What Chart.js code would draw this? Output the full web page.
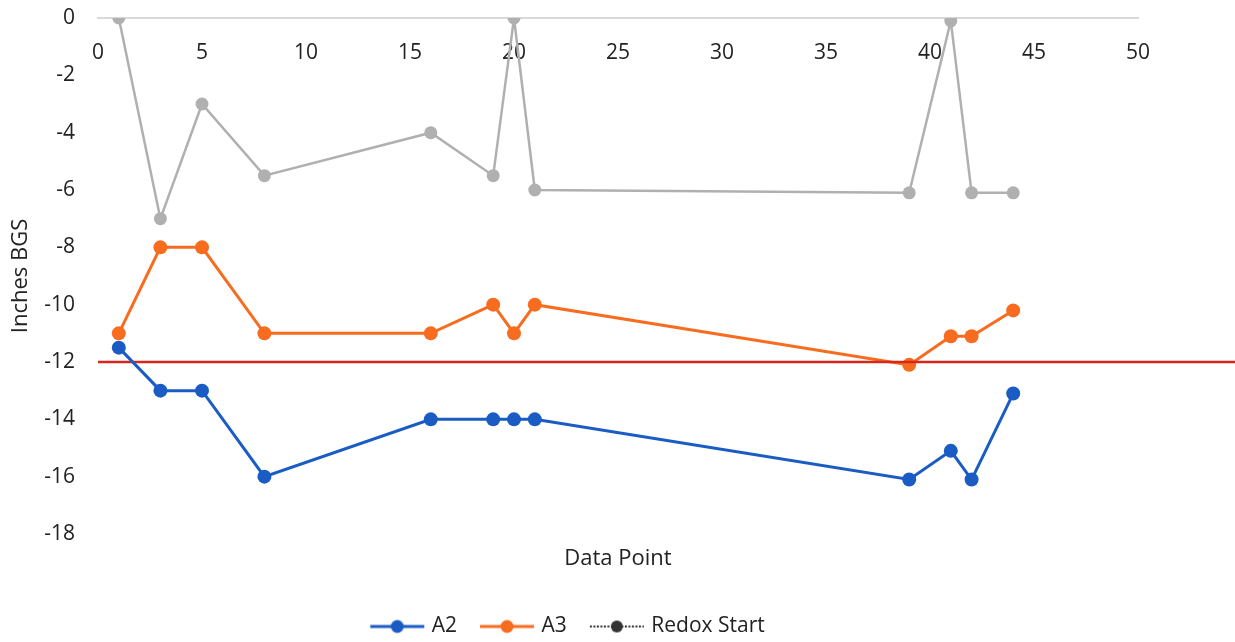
<!DOCTYPE html>
<html>
<head>
<meta charset="utf-8">
<script src="https://cdn.jsdelivr.net/npm/chart.js@4"></script>
<style>
  html, body { margin: 0; padding: 0; background: #fff; }
  #wrap { width: 1235px; height: 642px; }
</style>
</head>
<body>
<div id="wrap"><canvas id="c" width="1235" height="642"></canvas></div>
<script>
// Sample positions (data point index)
const dataPoints = [1, 3, 5, 8, 16, 19, 20, 21, 39, 41, 42, 44];
// Depths in inches below ground surface
const redoxStart = [0, -7, -3, -5.5, -4, -5.5, 0, -6, -6.1, -0.1, -6.1, -6.1];
const a3 = [-11, -8, -8, -11, -11, -10, -11, -10, -12.1, -11.1, -11.1, -10.2];
const a2 = [-11.5, -13, -13, -16, -14, -14, -14, -14, -16.1, -15.1, -16.1, -13.1];
// Reference depth line
const refDepth = -12;
const refSpan = [0, 54.7];
// Axis ticks
const xTicks = [0, 5, 10, 15, 20, 25, 30, 35, 40, 45, 50];
const yTicks = [0, -2, -4, -6, -8, -10, -12, -14, -16, -18];

const BLUE = '#1a5cc4';
const ORANGE = '#f76c1e';
const GRAY = '#b0b0b0';
const RED = '#d8261c';
const FONT = "'Open Sans', sans-serif";

function pts(ys) { return dataPoints.map((x, i) => ({ x: x, y: ys[i] })); }

// Legend swatches: a short line with the series marker on it
function swatch(color, kind) {
  const c = document.createElement('canvas');
  c.width = 56; c.height = 16;
  const g = c.getContext('2d');
  g.strokeStyle = color; g.fillStyle = color;
  if (kind === 'dashed') {
    g.lineWidth = 2;
    g.setLineDash([2, 1.5]);
  } else {
    g.lineWidth = 3;
  }
  g.beginPath(); g.moveTo(1, 8); g.lineTo(55, 8); g.stroke();
  g.setLineDash([]);
  g.beginPath();
  g.arc(28, 8, kind === 'dashed' ? 6 : 6.5, 0, Math.PI * 2);
  g.fill();
  return c;
}
const legendSwatches = {
  'A2': swatch(BLUE, 'solid'),
  'A3': swatch(ORANGE, 'solid'),
  'Redox Start': swatch('#333333', 'dashed')
};
const legendOrder = ['A2', 'A3', 'Redox Start'];

new Chart(document.getElementById('c'), {
  type: 'line',
  data: {
    datasets: [
      {
        label: 'Redox Start', data: pts(redoxStart), borderColor: GRAY, backgroundColor: GRAY,
        borderWidth: 2.5, pointRadius: 6.5, pointBorderWidth: 0, pointBackgroundColor: GRAY, order: 3
      },
      {
        label: 'A3', data: pts(a3), borderColor: ORANGE, backgroundColor: ORANGE,
        borderWidth: 3, pointRadius: 7, pointBorderWidth: 0, pointBackgroundColor: ORANGE, order: 2
      },
      {
        label: 'Ref', data: refSpan.map(x => ({ x: x, y: refDepth })), borderColor: RED,
        borderWidth: 2.5, pointRadius: 0, clip: false, order: 1
      },
      {
        label: 'A2', data: pts(a2), borderColor: BLUE, backgroundColor: BLUE,
        borderWidth: 3, pointRadius: 7, pointBorderWidth: 0, pointBackgroundColor: BLUE, order: 0
      }
    ]
  },
  options: {
    responsive: false,
    animation: false,
    layout: { padding: { top: 18, right: 97, left: 0, bottom: -5 } },
    scales: {
      x: {
        type: 'linear', min: 0, max: 50,
        position: { y: 0 },
        afterBuildTicks: s => { s.ticks = xTicks.map(v => ({ value: v })); },
        grid: { display: false, drawTicks: false },
        border: { display: true, color: '#d9d9d9', width: 2 },
        ticks: { padding: 22, color: '#222', font: { family: FONT, size: 21 } }
      },
      x2: {
        type: 'linear', min: 0, max: 50, position: 'bottom',
        grid: { display: false, drawTicks: false },
        border: { display: false },
        ticks: { display: false },
        afterFit: s => { s.height = 56; },
        title: {
          display: true, text: 'Data Point', color: '#222',
          font: { family: FONT, size: 22 }, padding: { top: 0, bottom: 18 }
        }
      },
      y: {
        type: 'linear', min: -18, max: 0,
        afterBuildTicks: s => { s.ticks = yTicks.map(v => ({ value: v })); },
        afterFit: s => { s.width = 98; },
        grid: {
          display: true, drawOnChartArea: false, drawTicks: true,
          tickLength: 23, tickColor: 'rgba(0,0,0,0)'
        },
        border: { display: false },
        ticks: { padding: 0, color: '#222', font: { family: FONT, size: 21 } },
        title: {
          display: true, text: 'Inches BGS', color: '#222',
          font: { family: FONT, size: 22 }, padding: { top: 8, bottom: 0 }
        }
      }
    },
    plugins: {
      tooltip: { enabled: false },
      legend: {
        position: 'bottom',
        onClick: null,
        labels: {
          usePointStyle: true,
          pointStyleWidth: 48,
          padding: 26,
          color: '#222',
          font: { family: FONT, size: 21 },
          generateLabels: chart => legendOrder.map(name => {
            const idx = chart.data.datasets.findIndex(d => d.label === name);
            return {
              text: name, datasetIndex: idx, pointStyle: legendSwatches[name],
              fillStyle: 'transparent', strokeStyle: 'transparent', lineWidth: 0, hidden: false,
              fontColor: '#222'
            };
          })
        }
      }
    }
  }
});
</script>
</body>
</html>
